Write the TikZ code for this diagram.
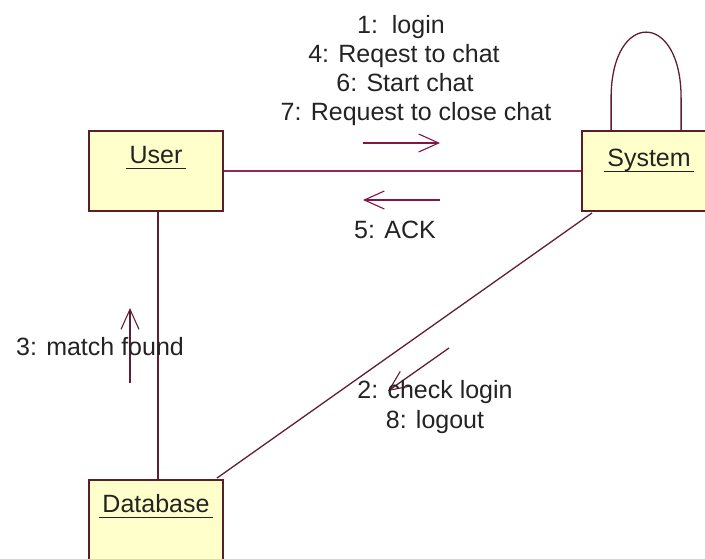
\documentclass[tikz,border=0pt]{standalone}
\usepackage{fontspec}
\setmainfont{Liberation Sans}
\usetikzlibrary{arrows.meta}

\definecolor{boxfill}{RGB}{255,255,204}
\definecolor{boxline}{RGB}{90,30,40}
\definecolor{linkpink}{RGB}{150,40,85}
\definecolor{linkdark}{RGB}{95,30,55}
\definecolor{msgline}{RGB}{130,20,70}
\definecolor{txt}{RGB}{35,35,35}

\tikzset{
  objbox/.style={draw=boxline, fill=boxfill, line width=1.8pt,
    minimum width=134pt, minimum height=80pt, inner sep=0pt},
  objname/.style={inner sep=0pt, anchor=base, text=txt, font=\fontsize{25}{25}\selectfont},
  ulinestyle/.style={draw=txt, line width=1.2pt},
  assoc/.style={line width=1.3pt},
  msgarrow/.style={draw=msgline, line width=1.3pt,
    -{Straight Barb[length=20pt,width=18pt,line width=1.1pt]}},
  msgtext/.style={inner sep=0pt, text=txt, font=\fontsize{25}{29}\selectfont, align=center}
}

\begin{document}
\begin{tikzpicture}[x=1pt,y=-1pt]
  \useasboundingbox (0,0) rectangle (705,558);
  \clip (0,0) rectangle (705,558);

  % object boxes
  \node[objbox] (user) at (156,171) {};
  \node[objbox] (system) at (649,171) {};
  \node[objbox] (db) at (156,520) {};

  % object names, underlined
  \node[objname] (userlbl) at ([yshift=-33pt]user.north) {User};
  \node[objname] (syslbl) at ([yshift=-36pt]system.north) {System};
  \node[objname] (dblbl) at ([yshift=-33pt]db.north) {Database};
  \foreach \l in {userlbl,syslbl,dblbl}
    \draw[ulinestyle] ([xshift=-3pt,yshift=-5pt]\l.base west) -- ([xshift=3pt,yshift=-5pt]\l.base east);

  % links
  \draw[assoc, draw=linkpink] (user.east) -- (system.west);
  \draw[assoc, draw=linkdark] ([xshift=2pt]user.south) -- ([xshift=2pt]db.north);
  \draw[assoc, draw=linkdark] ([xshift=11pt,yshift=-1pt]system.south west) -- ([xshift=-7pt,yshift=1pt]db.north east);
  % self link on System
  \coordinate (loopA) at ([xshift=30pt]system.north west);
  \coordinate (loopB) at ([xshift=100pt]system.north west);
  \draw[assoc, draw=linkdark]
    (loopA) -- ([yshift=32pt]loopA)
    .. controls ([yshift=120pt]loopA) and ([yshift=120pt]loopB) .. ([yshift=32pt]loopB)
    -- (loopB);

  % message markers
  \coordinate (m1s) at (363,143); \coordinate (m1e) at (440,143);
  \coordinate (m5s) at (440,200); \coordinate (m5e) at (363,200);
  \coordinate (m3s) at (130,383); \coordinate (m3e) at (130,308);
  \coordinate (m2s) at (449,348); \coordinate (m2e) at (388,391);
  \draw[msgarrow] (m1s) -- (m1e);
  \draw[msgarrow] (m5s) -- (m5e);
  \draw[msgarrow, draw=linkdark] (m3s) -- (m3e);
  \draw[msgarrow, draw=linkdark] (m2s) -- (m2e);

  % message texts
  \node[msgtext, anchor=base] (t1) at (401,33) {1:\ \ login};
  \node[msgtext, anchor=base] (t4) at (404,62) {4: Reqest to chat};
  \node[msgtext, anchor=base] (t6) at (405,91) {6: Start chat};
  \node[msgtext, anchor=base] (t7) at (416,120) {7: Request to close chat};
  \node[msgtext, anchor=base] (t5) at (395,238) {5: ACK};
  \node[msgtext, anchor=base] (t3) at (100,355) {3: match found};
  \node[msgtext, anchor=base] (t2) at (435,398) {2: check login};
  \node[msgtext, anchor=base] (t8) at (435,428) {8: logout};
\end{tikzpicture}
\end{document}
